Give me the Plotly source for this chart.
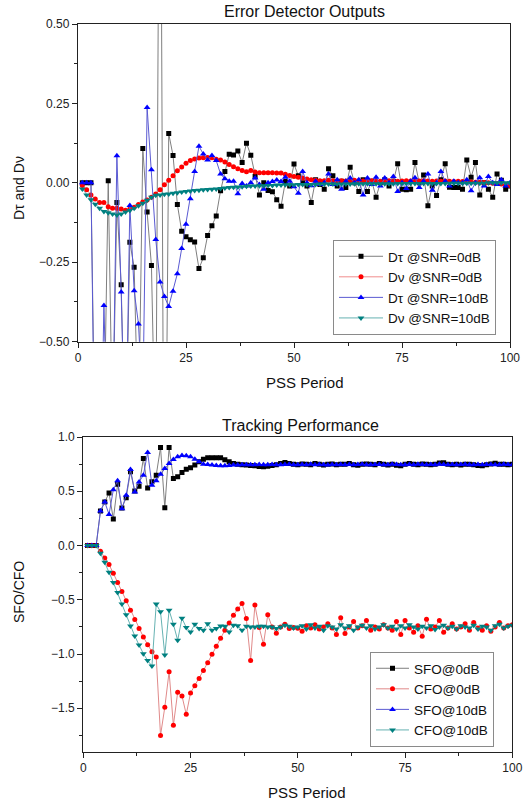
import plotly.graph_objects as go

periods = list(range(1, 101))

# ---- Top panel: error detector outputs ----
dtau_0db = [0, 0, 0, -0.9, -1.0, -0.8, 0.007, -0.8, -0.062, -0.321,
            -0.9, -0.187, -0.266, -0.8, 0.108, -0.092, -0.26, -0.9, 1.6, -1.5,
            0.155, 0.086, -0.068, -0.152, -0.17, -0.179, -0.186, -0.27, -0.236, -0.166,
            -0.135, -0.104, -0.025, 0.036, 0.09, 0.088, 0.1, 0.064, 0.125, 0.087,
            0.02, -0.038, 0.0, -0.024, -0.028, -0.053, -0.074, 0.004, -0.01, 0.059,
            0.022, 0.0, -0.01, -0.062, 0.01, -0.005, -0.02, 0.044, 0.022, -0.01,
            0.005, -0.015, 0.049, 0.0, -0.027, 0.01, -0.027, 0.005, -0.045, 0.0,
            0.01, -0.01, 0.005, 0.06, -0.02, -0.022, -0.02, 0.064, 0.0, 0.025,
            -0.072, -0.01, -0.04, 0.01, 0.06, -0.014, -0.015, -0.015, -0.02, 0.072,
            0.018, 0.064, -0.038, 0.0, -0.02, -0.045, 0.028, 0.008, -0.02, -0.01]

dnu_0db = [-0.008, -0.022, -0.038, -0.051, -0.062, -0.062, -0.075, -0.08, -0.08, -0.082,
           -0.086, -0.082, -0.077, -0.068, -0.06, -0.054, -0.045, -0.035, -0.022, -0.006,
           0.008, 0.022, 0.038, 0.05, 0.062, 0.07, 0.075, 0.078, 0.079, 0.08,
           0.079, 0.074, 0.072, 0.066, 0.058, 0.051, 0.044, 0.039, 0.035, 0.039,
           0.034, 0.032, 0.032, 0.032, 0.032, 0.031, 0.031, 0.027, 0.023, 0.02,
           0.018, 0.015, 0.012, 0.01, 0.008, 0.007, 0.007, 0.008, 0.007, 0.006,
           0.007, 0.006, 0.007, 0.008, 0.007, 0.006, 0.006, 0.007, 0.006, 0.005,
           0.006, 0.007, 0.006, 0.005, 0.006, 0.007, 0.006, 0.005, 0.006, 0.007,
           0.006, 0.005, 0.006, 0.005, 0.006, 0.005, 0.004, 0.005, 0.004, 0.003,
           0.003, 0.002, 0.002, 0.001, 0.0, -0.001, -0.002, -0.004, -0.006, -0.008]

dtau_10db = [0, 0, 0, -1.0, -1.1, -0.386, -0.9, -0.8, 0.085, -0.344,
             -0.9, -0.071, -0.34, -0.444, -0.7, 0.237, 0.041, -0.178, -0.312, -0.358,
             -0.389, -0.341, -0.286, -0.207, -0.13, -0.05, 0.036, 0.115, 0.091, 0.072,
             0.086, 0.07, 0.028, 0.013, 0.005, 0.005, -0.034, -0.002, -0.01, 0.0,
             0.015, -0.005, -0.02, 0.0, 0.004, 0.009, 0.004, 0.018, 0.005, -0.012,
             -0.033, 0.036, 0.0, -0.009, 0.005, -0.005, 0.0, 0.028, -0.005, 0.01,
             -0.02, 0.005, 0.015, 0.0, 0.01, -0.038, 0.015, -0.005, 0.018, -0.01,
             0.015, 0.0, 0.02, -0.027, 0.0, -0.018, 0.005, 0.016, -0.015, 0.005,
             0.028, -0.023, 0.0, 0.036, 0.005, -0.01, 0.005, 0.0, 0.0, 0.01,
             -0.025, 0.0, 0.016, -0.01, 0.02, 0.0, -0.005, 0.01, -0.01, 0.0]

dnu_10db = [-0.019, -0.038, -0.053, -0.067, -0.08, -0.09, -0.094, -0.098, -0.101, -0.098,
            -0.092, -0.087, -0.08, -0.072, -0.064, -0.055, -0.045, -0.039, -0.038, -0.036,
            -0.035, -0.033, -0.031, -0.029, -0.027, -0.026, -0.024, -0.023, -0.022, -0.021,
            -0.02, -0.019, -0.018, -0.016, -0.015, -0.014, -0.013, -0.012, -0.011, -0.01,
            -0.01, -0.009, -0.009, -0.008, -0.008, -0.007, -0.007, -0.006, -0.006, -0.006,
            -0.005, -0.005, -0.005, -0.005, -0.005, -0.004, -0.004, -0.004, -0.004, -0.004,
            -0.004, -0.004, -0.004, -0.003, -0.003, -0.003, -0.003, -0.003, -0.003, -0.003,
            -0.003, -0.003, -0.003, -0.002, -0.002, -0.002, -0.002, -0.002, -0.002, -0.002,
            -0.002, -0.002, -0.002, -0.002, -0.002, -0.001, -0.001, -0.001, -0.001, -0.001,
            -0.001, -0.001, -0.001, -0.001, 0.0, 0.0, 0.0, 0.0, 0.0, 0.0]

# ---- Bottom panel: tracking performance ----
sfo_0db = [0, 0, 0, 0.318, 0.40, 0.484, 0.244, 0.565, 0.345, 0.441,
           0.679, 0.503, 0.546, 0.802, 0.531, 0.587, 0.648, 0.904, 0.349, 0.904,
           0.617, 0.633, 0.673, 0.704, 0.716, 0.741, 0.772, 0.796, 0.81, 0.81,
           0.81, 0.81, 0.79, 0.772, 0.756, 0.748, 0.745, 0.742, 0.738, 0.735,
           0.728, 0.725, 0.73, 0.738, 0.745, 0.755, 0.765, 0.755, 0.748, 0.745,
           0.752, 0.748, 0.745, 0.755, 0.75, 0.742, 0.748, 0.752, 0.745, 0.75,
           0.748, 0.755, 0.745, 0.74, 0.75, 0.752, 0.748, 0.745, 0.755, 0.75,
           0.742, 0.748, 0.74, 0.735, 0.75, 0.755, 0.748, 0.745, 0.752, 0.748,
           0.745, 0.75, 0.76, 0.762, 0.75, 0.745, 0.748, 0.742, 0.75, 0.748,
           0.745, 0.738, 0.735, 0.745, 0.752, 0.758, 0.75, 0.748, 0.745, 0.75]

cfo_0db = [0, 0, 0, -0.052, -0.114, -0.176, -0.256, -0.34, -0.423, -0.509,
           -0.596, -0.682, -0.765, -0.843, -0.914, -0.978, -1.028, -1.75, -1.49, -1.164,
           -1.657, -1.352, -1.386, -1.556, -1.358, -1.293, -1.225, -1.151, -1.08, -1.003,
           -0.929, -0.855, -0.781, -0.713, -0.642, -0.586, -0.534, -0.673, -1.059, -0.549,
           -0.756, -0.91, -0.639, -0.75, -0.809, -0.75, -0.725, -0.765, -0.756, -0.762,
           -0.79, -0.74, -0.76, -0.73, -0.77, -0.75, -0.72, -0.76, -0.82, -0.665,
           -0.81, -0.75, -0.70, -0.76, -0.74, -0.69, -0.78, -0.75, -0.77, -0.73,
           -0.76, -0.78, -0.70, -0.82, -0.69, -0.76, -0.80, -0.74, -0.835, -0.68,
           -0.77, -0.75, -0.69, -0.80, -0.76, -0.72, -0.77, -0.75, -0.72, -0.78,
           -0.71, -0.76, -0.78, -0.74, -0.79, -0.75, -0.71, -0.76, -0.74, -0.73]

sfo_10db = [0, 0, 0, 0.318, 0.401, 0.287, 0.515, 0.596, 0.34, 0.463,
            0.701, 0.494, 0.586, 0.648, 0.858, 0.556, 0.596, 0.657, 0.71, 0.756,
            0.793, 0.818, 0.83, 0.828, 0.818, 0.796, 0.772, 0.75, 0.747, 0.741,
            0.737, 0.735, 0.735, 0.738, 0.741, 0.743, 0.745, 0.745, 0.744, 0.745,
            0.746, 0.744, 0.745, 0.747, 0.745, 0.744, 0.746, 0.748, 0.745, 0.744,
            0.746, 0.745, 0.748, 0.744, 0.746, 0.745, 0.743, 0.747, 0.745, 0.746,
            0.744, 0.747, 0.745, 0.746, 0.748, 0.744, 0.745, 0.747, 0.746, 0.744,
            0.745, 0.748, 0.746, 0.744, 0.745, 0.747, 0.745, 0.749, 0.746, 0.744,
            0.746, 0.745, 0.748, 0.746, 0.744, 0.747, 0.745, 0.746, 0.748, 0.745,
            0.744, 0.746, 0.745, 0.747, 0.746, 0.744, 0.745, 0.748, 0.746, 0.745]

cfo_10db = [0, 0, 0, -0.071, -0.154, -0.247, -0.34, -0.432, -0.54, -0.639,
            -0.741, -0.833, -0.917, -0.997, -1.059, -1.111, -0.54, -0.611, -1.009, -0.596,
            -0.725, -0.873, -0.67, -0.756, -0.796, -0.725, -0.765, -0.781, -0.72, -0.78,
            -0.765, -0.741, -0.745, -0.796, -0.735, -0.74, -0.78, -0.745, -0.75, -0.75,
            -0.745, -0.745, -0.75, -0.75, -0.765, -0.75, -0.735, -0.745, -0.76, -0.75,
            -0.74, -0.77, -0.73, -0.76, -0.745, -0.78, -0.74, -0.75, -0.77, -0.73,
            -0.76, -0.74, -0.78, -0.75, -0.735, -0.76, -0.74, -0.77, -0.75, -0.73,
            -0.76, -0.745, -0.77, -0.74, -0.76, -0.73, -0.75, -0.77, -0.745, -0.76,
            -0.74, -0.775, -0.75, -0.735, -0.76, -0.745, -0.77, -0.74, -0.75, -0.76,
            -0.735, -0.77, -0.745, -0.75, -0.78, -0.74, -0.725, -0.76, -0.745, -0.735]

x_ticks = [0, 25, 50, 75, 100]
top_y_ticks = [-0.5, -0.25, 0.0, 0.25, 0.5]
bottom_y_ticks = [-1.5, -1.0, -0.5, 0.0, 0.5, 1.0]

FONT = "Liberation Sans, Arial, sans-serif"
W, H = 531, 802

series_top = [
    ("Dτ @SNR=0dB", dtau_0db, "square", "#000000", "#7f7f7f", 5),
    ("Dν @SNR=0dB", dnu_0db, "circle", "#ff0000", "#f08c8c", 5),
    ("Dτ @SNR=10dB", dtau_10db, "triangle-up", "#0000ff", "#5a5ad2", 6),
    ("Dν @SNR=10dB", dnu_10db, "triangle-down", "#008080", "#66b2b2", 6),
]
series_bottom = [
    ("SFO@0dB", sfo_0db, "square", "#000000", "#7f7f7f", 5),
    ("CFO@0dB", cfo_0db, "circle", "#ff0000", "#e08a8a", 5),
    ("SFO@10dB", sfo_10db, "triangle-up", "#0000ff", "#5a5ad2", 6),
    ("CFO@10dB", cfo_10db, "triangle-down", "#008080", "#66b2b2", 6),
]

fig = go.Figure()
for name, vals, sym, mc, lc, ms in series_top:
    fig.add_trace(go.Scatter(x=periods, y=vals, mode="lines+markers", name=name,
                             line=dict(color=lc, width=1),
                             marker=dict(symbol=sym, size=ms, color=mc, line=dict(width=0)),
                             xaxis="x", yaxis="y", legend="legend"))
for name, vals, sym, mc, lc, ms in series_bottom:
    fig.add_trace(go.Scatter(x=periods, y=vals, mode="lines+markers", name=name,
                             line=dict(color=lc, width=1),
                             marker=dict(symbol=sym, size=ms, color=mc, line=dict(width=0)),
                             xaxis="x2", yaxis="y2", legend="legend2"))

axis_common = dict(showline=True, mirror=True, linecolor="#222222", linewidth=1.3,
                   showgrid=False, zeroline=False, ticks="outside", ticklen=5,
                   tickwidth=1, tickcolor="#222222", automargin=False,
                   tickfont=dict(family=FONT, size=12, color="#222222"))

fig.update_layout(
    template="none",
    width=W, height=H,
    margin=dict(l=0, r=0, t=0, b=0, autoexpand=False),
    paper_bgcolor="white", plot_bgcolor="white",
    font=dict(family=FONT, color="#111111"),
    xaxis=dict(domain=[78 / W, 510 / W], range=[0, 100], tickvals=x_ticks,
               minor=dict(ticks="outside", ticklen=3, tickvals=[12.5, 37.5, 62.5, 87.5],
                          tickcolor="#222222"),
               anchor="y", **axis_common),
    yaxis=dict(domain=[1 - 341.7 / H, 1 - 24 / H], range=[-0.5001, 0.5001],
               tickvals=top_y_ticks, tickformat=".2f",
               minor=dict(ticks="outside", ticklen=3,
                          tickvals=[-0.375, -0.125, 0.125, 0.375], tickcolor="#222222"),
               anchor="x", **axis_common),
    xaxis2=dict(domain=[83.3 / W, 512.3 / W], range=[0, 100], tickvals=x_ticks,
                minor=dict(ticks="outside", ticklen=3, tickvals=[12.5, 37.5, 62.5, 87.5],
                           tickcolor="#222222"),
                anchor="y2", **axis_common),
    yaxis2=dict(domain=[1 - 751.7 / H, 1 - 437 / H], range=[-1.9, 1.0001],
                tickvals=bottom_y_ticks, tickformat=".1f",
                minor=dict(ticks="outside", ticklen=3,
                           tickvals=[-1.75, -1.25, -0.75, -0.25, 0.25, 0.75], tickcolor="#222222"),
                anchor="x2", **axis_common),
    legend=dict(x=333 / W, y=1 - 240 / H, xanchor="left", yanchor="top",
                bgcolor="white", bordercolor="#8a8a8a", borderwidth=1, itemwidth=44,
                font=dict(family=FONT, size=13.5, color="#111111"), tracegroupgap=0),
    legend2=dict(x=370 / W, y=1 - 652 / H, xanchor="left", yanchor="top",
                 bgcolor="white", bordercolor="#8a8a8a", borderwidth=1, itemwidth=33,
                 font=dict(family=FONT, size=13.5, color="#111111"), tracegroupgap=0),
    showlegend=True,
)

annos = [
    dict(text="Error Detector Outputs", x=304 / W, y=1 - 12 / H, size=16, angle=0),
    dict(text="Tracking Performance", x=300 / W, y=1 - 425 / H, size=16, angle=0),
    dict(text="PSS Period", x=305 / W, y=1 - 383 / H, size=15, angle=0),
    dict(text="PSS Period", x=307 / W, y=1 - 792 / H, size=15, angle=0),
    dict(text="Dτ and Dν", x=19 / W, y=1 - 188 / H, size=14, angle=-90),
    dict(text="SFO/CFO", x=19 / W, y=1 - 592 / H, size=14, angle=-90),
]
for a in annos:
    fig.add_annotation(text=a["text"], x=a["x"], y=a["y"], xref="paper", yref="paper",
                       xanchor="center", yanchor="middle", showarrow=False,
                       textangle=a["angle"],
                       font=dict(family=FONT, size=a["size"], color="#111111"))

fig.write_html("out.html", config={"displayModeBar": False},
               post_script="document.body.style.margin='0';document.body.style.overflow='hidden';")
